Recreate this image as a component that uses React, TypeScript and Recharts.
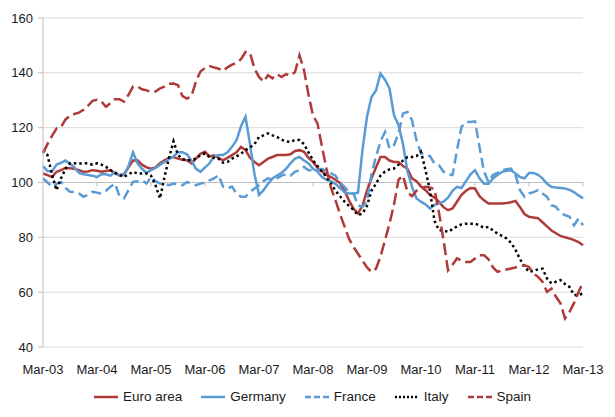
import React from 'react';
import { LineChart, Line, XAxis, YAxis, CartesianGrid, ReferenceLine } from 'recharts';

// monthly index, Mar-03 = 0 ... Mar-13 = 120
const monthNames = ['Jan', 'Feb', 'Mar', 'Apr', 'May', 'Jun', 'Jul', 'Aug', 'Sep', 'Oct', 'Nov', 'Dec'];
const months: string[] = [];
for (let i = 0; i <= 120; i++) {
  const m = (2 + i) % 12;
  const y = 3 + Math.floor((2 + i) / 12);
  months.push(`${monthNames[m]}-${String(y).padStart(2, '0')}`);
}
const marchTicks = months.filter(m => m.startsWith('Mar'));
const yTicks = [40, 60, 80, 100, 120, 140, 160];

const euroArea = [
  103.3, 102.7, 102, 103.9, 104.5, 105.3, 105.2, 105, 104.5, 103.9, 104, 104.5,
  104.3, 103.9, 104.2, 104.5, 103.3, 102.7, 103, 105.5, 108, 108.1, 106.5, 105.5,
  105, 105.5, 107, 108.1, 109, 109.3, 108.7, 108.3, 108.1, 107, 108.7, 110.5,
  111.2, 109.5, 109.9, 109, 108.1, 109, 110, 111, 113, 111.8, 109, 107.5,
  106.3, 107.5, 108.7, 109.3, 110, 110, 110, 110.3, 111.5, 111.8, 111.2, 109,
  107.5, 105.3, 104, 102.8, 102, 101, 99.8, 97, 93.5, 90.5, 88.7, 91.5,
  97, 101.5, 105.5, 109.3, 109.3, 108, 107.5, 107.5, 106, 105, 101.5, 100.5,
  98.5, 97.2, 95.5, 94.5, 92.9, 91, 89.9, 90.5, 93, 95.5, 97, 98,
  97.8, 95, 93.5, 92.3, 92.3, 92.3, 92.3, 92.5, 92.8, 93.3, 91, 88.5,
  87.5, 87.2, 87, 85.5, 84, 82.5, 81.5, 80.5, 80, 79.6, 79, 78.3,
  77.1,
];

const germany = [
  106, 104.2, 104, 106.5, 107.2, 108, 106.8, 105.5, 103.5, 103, 102.7, 102.5,
  102, 103, 103, 102.5, 103.8, 102.5, 102.7, 106, 111, 107, 105, 103.5,
  104.5, 105.3, 106.5, 107.5, 108.5, 109.5, 111, 111, 110.3, 108, 105, 103.9,
  105.5, 107, 109.5, 110, 110, 111, 113, 115.4, 120.5, 124, 114, 103,
  95.5, 97.2, 99.5, 101.5, 102.5, 103.5, 105, 107, 108.7, 109.3, 108, 107,
  105, 104, 102, 101, 100.5, 99.5, 98, 96.5, 96, 96, 96.3, 112,
  124, 131.2, 133.6, 139.7, 137.5, 134.3, 124.5, 121, 114, 104, 98.5, 94.2,
  93, 92, 90.5, 91.8, 92.5, 93, 94.5, 97, 98.4, 98, 100.5, 103,
  104.5, 101.5, 99.5, 99.5, 101.5, 102.7, 103.9, 104.3, 104.5, 103.3, 102, 101.5,
  103.5, 103.5, 102.8, 101.5, 99.5, 98.4, 98.2, 98, 97.8, 97.3, 96.5, 95.3,
  94.2,
];

const france = [
  101.5, 100, 98.4, 99.5, 100.2, 98, 96.6, 96.5, 96, 94.8, 95.5, 96.6,
  96.3, 96, 97, 98.5, 99.6, 95, 94.2, 97.2, 100.2, 100.5, 100.8, 99.6,
  102, 100.5, 99.6, 99.5, 99, 99.6, 99.3, 99, 100.2, 99.5, 99, 99.6,
  100, 100.8, 101.5, 102.7, 98.5, 97.8, 98.5, 96, 94.8, 94.8, 96.5, 97.8,
  99, 100.5, 101.5, 101, 101.5, 102.5, 103, 102.5, 103.9, 104.5, 105.7, 104.5,
  104.5, 104.5, 105, 104, 103.3, 102.5, 100, 98.4, 96.6, 96, 91.7, 91.1,
  93, 103, 109.5, 115, 118.4, 112.4, 113.6, 117.9, 125.2, 125.7, 122.7, 115.4,
  110.6, 110, 109.6, 106.9, 106.3, 103.9, 103, 102.7, 111.8, 120.3, 122.1, 122.1,
  122.3, 113, 104, 100.2, 102.7, 103.5, 104.5, 104.8, 105.1, 102.7, 97.2, 94.8,
  96, 96.5, 97.2, 96, 94.8, 91.7, 91.1, 89, 88.1, 87.5, 84.4, 86.8,
  84.4,
];

const italy = [
  111.8, 110, 103, 97.2, 101.5, 105, 107, 107, 106.9, 107, 107, 106.5,
  107, 106.5, 105.7, 104.5, 103.5, 102.7, 102, 103, 103.9, 103.3, 103.3, 103.3,
  102.5, 99, 94.2, 102, 109, 115, 110, 108.5, 108.1, 108.3, 108.7, 110,
  110.6, 109.3, 109, 108.7, 107.2, 107.5, 108.7, 109.5, 110.5, 111.8, 112.8, 114,
  116.6, 117.2, 117.9, 117.2, 116.6, 115.6, 115, 114.8, 115.5, 115.5, 114, 111,
  108.1, 106, 104, 102, 99.6, 97, 95, 93, 91.5, 90, 88.1, 88.7,
  91.5, 97, 99.6, 102.5, 104, 104.8, 105.1, 106.5, 108, 109.3, 109.3, 109.6,
  111.2, 104.5, 97, 86, 82.6, 82.5, 82, 83, 84, 84.7, 85, 85,
  85, 84.3, 83.5, 83.8, 82.5, 81.4, 80.5, 79.6, 78, 75.5, 72, 69.5,
  67.4, 67.8, 68.3, 68.6, 65, 63.2, 63.8, 64.4, 63, 61.9, 59, 59,
  59.5,
];

const spain = [
  110.7, 114, 117, 119.7, 120.2, 123, 124.3, 125, 125.5, 126.5, 128, 129.8,
  130.2, 129.5, 127.6, 129, 130.4, 130.4, 129.5, 132, 135, 135, 134, 133.6,
  133, 133.2, 134.3, 135, 136, 136.1, 135.5, 131.5, 130.6, 131.5, 137, 140.5,
  141.8, 142.5, 142, 141.5, 140.7, 142, 143, 143.6, 145, 147.6, 147.3, 141.5,
  138.5, 136.8, 139.1, 138, 139.5, 138.5, 139.5, 139, 140.3, 146.4, 141, 132,
  124.5, 121.5, 113, 105, 98, 93.5, 88.5, 84, 79.5, 76.5, 74, 71.5,
  69, 67.4, 68.6, 73, 79, 85, 92, 101, 102.5, 96.5, 95, 97,
  98, 98.4, 98.2, 97.5, 89, 79, 68, 70, 72.3, 71.5, 71, 71,
  72.3, 73.5, 73.5, 72, 69, 67.4, 68, 68.3, 68.6, 69, 69.5, 69.8,
  69.2, 66.8, 65.6, 63.8, 60.1, 61.3, 58.3, 55.9, 50.4, 52.8, 56, 60,
  63.8,
];

const RED = '#AF3A3A';
const BLUE = '#5B9BD5';
const FONT = '"Liberation Sans", Arial, sans-serif';

const series = [
  { key: 'euro', name: 'Euro area', color: RED, dash: undefined, legendDash: undefined },
  { key: 'germany', name: 'Germany', color: BLUE, dash: undefined, legendDash: undefined },
  { key: 'france', name: 'France', color: BLUE, dash: '10 5', legendDash: '6 3' },
  { key: 'italy', name: 'Italy', color: '#000000', dash: '2.5 3', legendDash: '2 2' },
  { key: 'spain', name: 'Spain', color: RED, dash: '12 5', legendDash: '6 3' },
];

const data = months.map((month, i) => ({
  month,
  euro: euroArea[i],
  germany: germany[i],
  france: france[i],
  italy: italy[i],
  spain: spain[i],
}));

// small tick hanging under the 100 line (the category axis crosses there)
const AxisTick = (props: any) => {
  const mid = (props.y1 + props.y2) / 2;
  return <line x1={props.x1} x2={props.x1} y1={mid} y2={mid + 4} stroke="#bfbfbf" strokeWidth={1} />;
};

export default function App() {
  return (
    <div style={{ position: 'fixed', left: 0, top: 0, width: 615, height: 417, background: '#fff', fontFamily: FONT }}>
      <LineChart width={615} height={417} data={data} margin={{ top: 18, right: 32, left: 0, bottom: 40 }}>
        <CartesianGrid vertical={false} stroke="#d9d9d9" />
        <XAxis
          dataKey="month"
          interval={11}
          axisLine={false}
          tickLine={false}
          tickMargin={12}
          tick={{ fontSize: 13, fill: '#1a1a1a', fontFamily: FONT }}
        />
        <YAxis
          width={43}
          domain={[40, 160]}
          ticks={yTicks}
          axisLine={{ stroke: '#bfbfbf' }}
          tickLine={{ stroke: '#bfbfbf' }}
          tickSize={5}
          tickMargin={5}
          tick={{ fontSize: 13, fill: '#1a1a1a', fontFamily: FONT }}
        />
        <ReferenceLine y={100} stroke="#bfbfbf" />
        {marchTicks.slice(1).map(m => (
          <ReferenceLine key={m} x={m} shape={AxisTick} />
        ))}
        {series.map(s => (
          <Line
            key={s.key}
            type="linear"
            dataKey={s.key}
            name={s.name}
            stroke={s.color}
            strokeWidth={2.5}
            strokeDasharray={s.dash}
            dot={false}
            isAnimationActive={false}
          />
        ))}
      </LineChart>
      <div style={{ position: 'absolute', left: 5, width: 615, top: 389, display: 'flex', justifyContent: 'center', gap: 19, fontSize: 13.5, color: '#1a1a1a' }}>
        {series.map(s => (
          <div key={s.key} style={{ display: 'flex', alignItems: 'center', gap: 5 }}>
            <svg width={24} height={6}>
              <line x1={0} y1={3} x2={24} y2={3} stroke={s.color} strokeWidth={2.5} strokeDasharray={s.legendDash} />
            </svg>
            <span>{s.name}</span>
          </div>
        ))}
      </div>
    </div>
  );
}
